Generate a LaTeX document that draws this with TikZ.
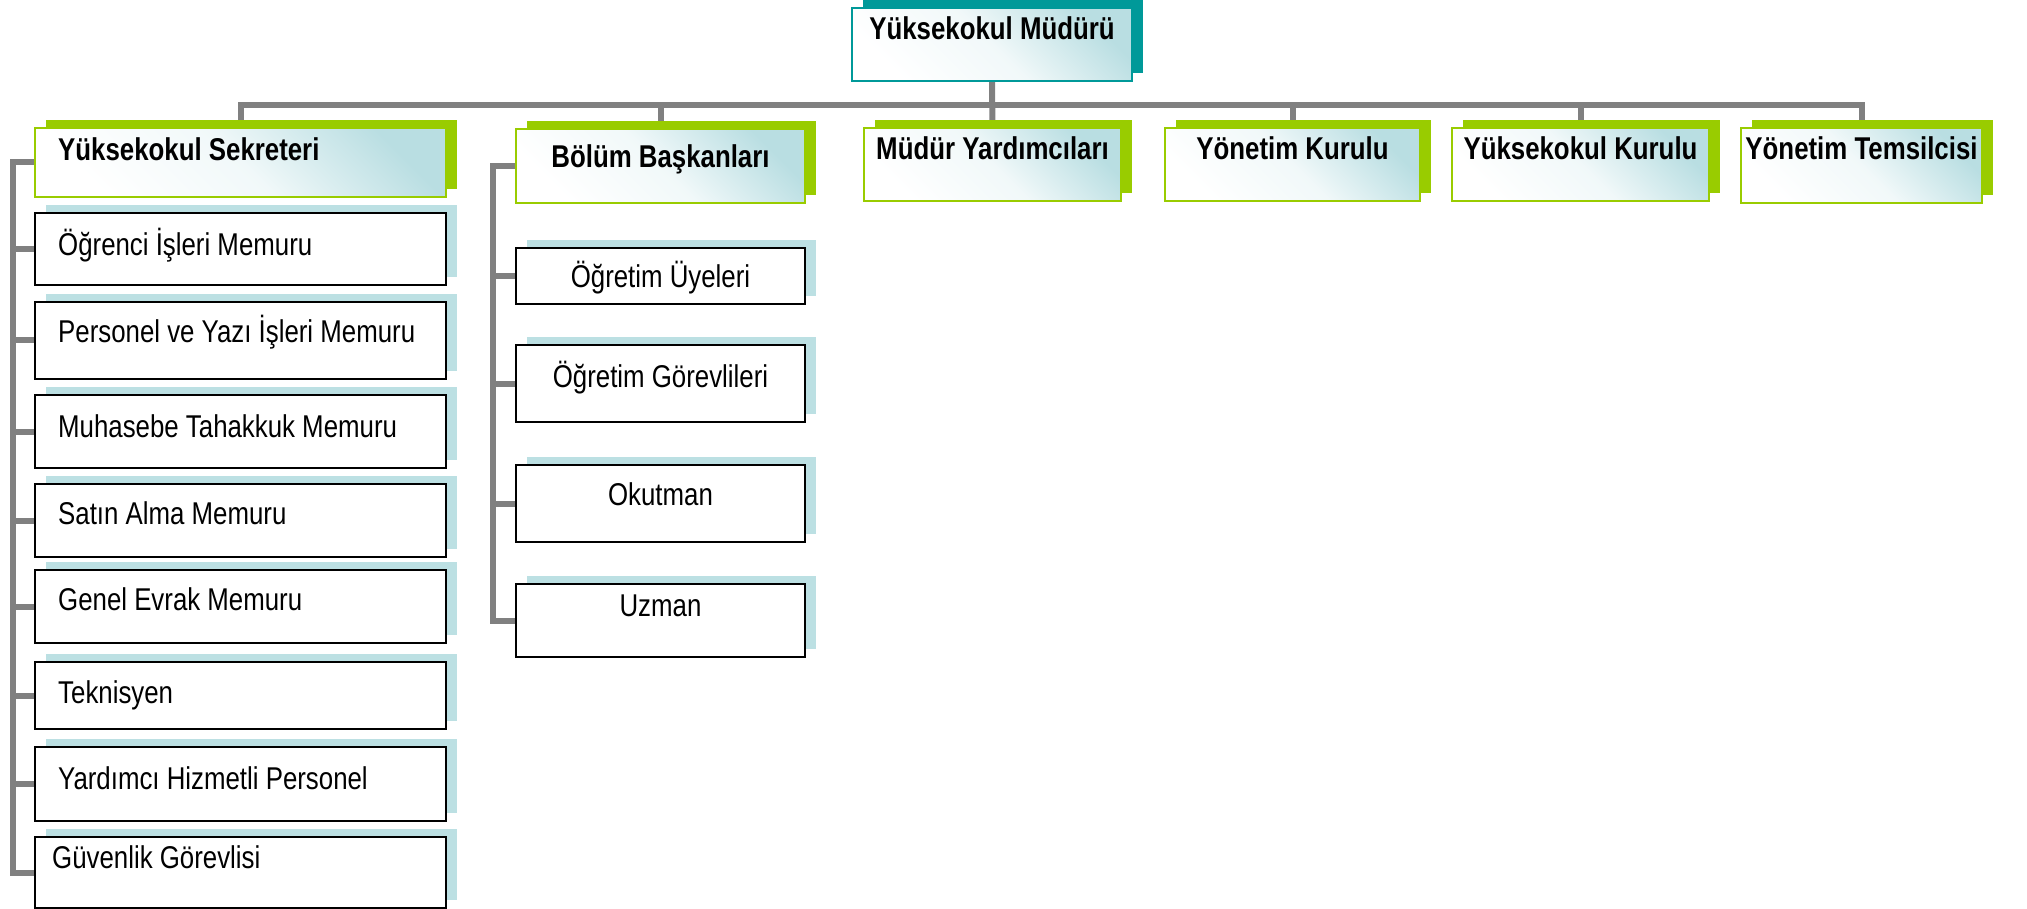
\documentclass[tikz,border=0pt]{standalone}
\usepackage{fontspec}
\setmainfont{Liberation Sans}[FakeStretch=0.82]
\usetikzlibrary{shadows,backgrounds}
\definecolor{tealc}{RGB}{0,153,153}
\definecolor{greenc}{RGB}{153,204,0}
\definecolor{shadeblue}{RGB}{188,224,227}
\definecolor{conngray}{RGB}{128,128,128}
\definecolor{tintc}{RGB}{185,222,226}
\tikzset{
  box/.style={rectangle, anchor=north west, inner sep=0pt, outer sep=0pt},
  tinted/.style={top color=tintc, bottom color=white, middle color=white!80!tintc, shading angle=-45},
  headbox/.style={box, draw=tealc, line width=2.5pt, tinted,
    general shadow={fill=tealc, shadow xshift=11pt, shadow yshift=8pt}},
  unitbox/.style={box, draw=greenc, line width=2.5pt, tinted,
    general shadow={fill=greenc, shadow xshift=11pt, shadow yshift=8pt}},
  staffbox/.style={box, draw=black, line width=2pt, fill=white,
    general shadow={fill=shadeblue, shadow xshift=11pt, shadow yshift=8pt}},
  conn/.style={draw=conngray, line width=6pt, line join=miter},
  btxt/.style={font=\fontsize{31.5}{36}\selectfont\bfseries, inner sep=0pt},
  rtxt/.style={font=\fontsize{31.5}{36}\selectfont, inner sep=0pt},
}
\begin{document}
\begin{tikzpicture}[x=1pt,y=-1pt]
\useasboundingbox (0,0) rectangle (2027,909);
% head
\node[headbox, minimum width=280pt, minimum height=73pt] (top) at (852,8) {};
% second row
\node[unitbox, minimum width=411pt, minimum height=69pt] (sek) at (35,128) {};
\node[unitbox, minimum width=289pt, minimum height=74pt] (bol) at (516,129) {};
\node[unitbox, minimum width=257pt, minimum height=73pt] (myd) at (864,128) {};
\node[unitbox, minimum width=255pt, minimum height=73pt] (ykr) at (1165,128) {};
\node[unitbox, minimum width=257pt, minimum height=73pt] (ykk) at (1452,128) {};
\node[unitbox, minimum width=241pt, minimum height=75pt] (ytm) at (1741,128) {};
% left column
\node[staffbox, minimum width=411pt, minimum height=72pt] (c1) at (35,213) {};
\node[staffbox, minimum width=411pt, minimum height=77pt] (c2) at (35,302) {};
\node[staffbox, minimum width=411pt, minimum height=73pt] (c3) at (35,395) {};
\node[staffbox, minimum width=411pt, minimum height=73pt] (c4) at (35,484) {};
\node[staffbox, minimum width=411pt, minimum height=73pt] (c5) at (35,570) {};
\node[staffbox, minimum width=411pt, minimum height=67pt] (c6) at (35,662) {};
\node[staffbox, minimum width=411pt, minimum height=74pt] (c7) at (35,747) {};
\node[staffbox, minimum width=411pt, minimum height=71pt] (c8) at (35,837) {};
% middle column
\node[staffbox, minimum width=289pt, minimum height=56pt] (m1) at (516,248) {};
\node[staffbox, minimum width=289pt, minimum height=77pt] (m2) at (516,345) {};
\node[staffbox, minimum width=289pt, minimum height=77pt] (m3) at (516,465) {};
\node[staffbox, minimum width=289pt, minimum height=73pt] (m4) at (516,584) {};
% texts
\node[btxt, anchor=base] (ttop) at (992,40) {Yüksekokul Müdürü};
\node[btxt, anchor=base west] (tsek) at (58,161) {Yüksekokul Sekreteri};
\node[btxt, anchor=base] (tbol) at (660.5,168) {Bölüm Başkanları};
\node[btxt, anchor=base] (tmyd) at (992.5,160) {Müdür Yardımcıları};
\node[btxt, anchor=base] (tykr) at (1292.5,160) {Yönetim Kurulu};
\node[btxt, anchor=base] (tykk) at (1580.5,160) {Yüksekokul Kurulu};
\node[btxt, anchor=base] (tytm) at (1861.5,160) {Yönetim Temsilcisi};
\node[rtxt, anchor=base west] (tc1) at (58,256) {Öğrenci İşleri Memuru};
\node[rtxt, anchor=base west] (tc2) at (58,343) {Personel ve Yazı İşleri Memuru};
\node[rtxt, anchor=base west] (tc3) at (58,437) {Muhasebe Tahakkuk Memuru};
\node[rtxt, anchor=base west] (tc4) at (58,524) {Satın Alma Memuru};
\node[rtxt, anchor=base west] (tc5) at (58,610) {Genel Evrak Memuru};
\node[rtxt, anchor=base west] (tc6) at (58,703) {Teknisyen};
\node[rtxt, anchor=base west] (tc7) at (58,789) {Yardımcı Hizmetli Personel};
\node[rtxt, anchor=base west] (tc8) at (52,868) {Güvenlik Görevlisi};
\node[rtxt, anchor=base] (tm1) at (660.5,288) {Öğretim Üyeleri};
\node[rtxt, anchor=base] (tm2) at (660.5,387) {Öğretim Görevlileri};
\node[rtxt, anchor=base] (tm3) at (660.5,505) {Okutman};
\node[rtxt, anchor=base] (tm4) at (660.5,616) {Uzman};
% connectors
\begin{scope}[on background layer]
\fill[white] (0,0) rectangle (2027,909);
\coordinate (barY) at (0,105);
\coordinate (spA) at (13,0);
\coordinate (spB) at (493,0);
\draw[conn] (top.south) -- (myd.north);
\draw[conn] (sek.north) -- (sek.north |- barY) -- (ytm.north |- barY) -- (ytm.north);
\foreach \n in {bol,ykr,ykk} \draw[conn] (\n.north) -- (\n.north |- barY);
\draw[conn] (sek.west) -- (sek.west -| spA) -- (c8.west -| spA) -- (c8.west);
\foreach \n in {c1,c2,c3,c4,c5,c6,c7} \draw[conn] (\n.west) -- (\n.west -| spA);
\draw[conn] (bol.west) -- (bol.west -| spB) -- (m4.west -| spB) -- (m4.west);
\foreach \n in {m1,m2,m3} \draw[conn] (\n.west) -- (\n.west -| spB);
\end{scope}
\end{tikzpicture}
\end{document}
